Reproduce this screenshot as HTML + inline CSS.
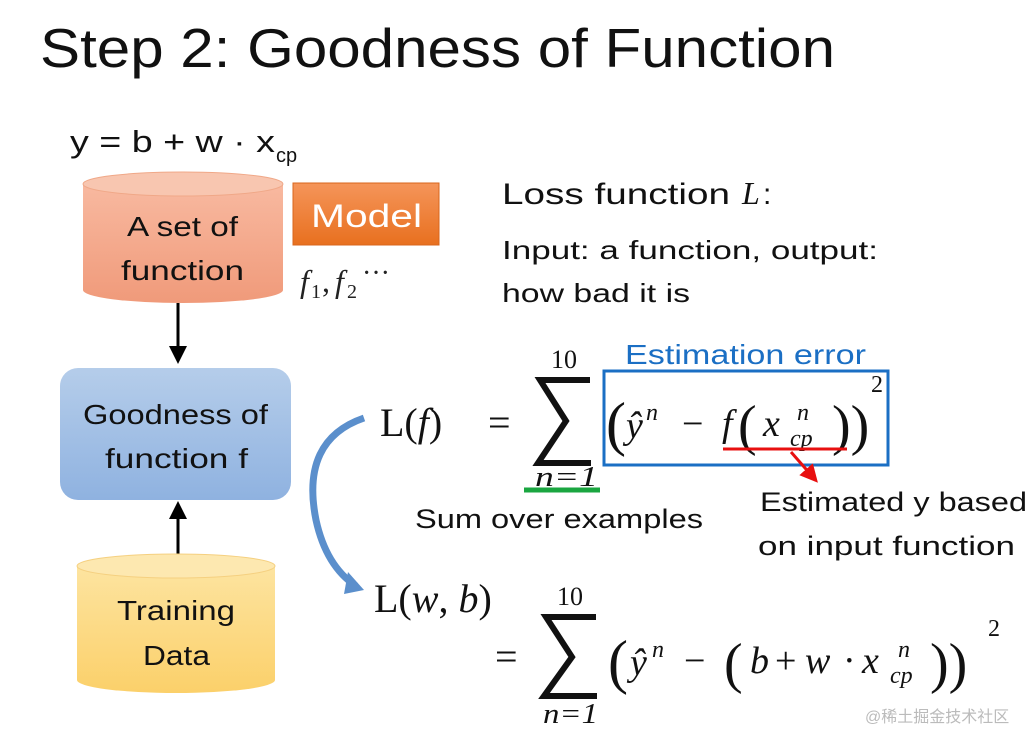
<!DOCTYPE html>
<html><head><meta charset="utf-8"><style>
html,body{margin:0;padding:0;background:#fff;}
svg{display:block;}
.s{font-family:"Liberation Sans","DejaVu Sans",sans-serif;}
.m{font-family:"Liberation Serif","DejaVu Serif",serif;}
</style></head><body>
<svg width="1036" height="733" viewBox="0 0 1036 733" xmlns="http://www.w3.org/2000/svg">
<defs>
<linearGradient id="og" x1="0" y1="0" x2="0" y2="1"><stop offset="0" stop-color="#f8b9a0"/><stop offset="1" stop-color="#f09a7a"/></linearGradient>
<linearGradient id="bg" x1="0" y1="0" x2="0" y2="1"><stop offset="0" stop-color="#b5cdea"/><stop offset="1" stop-color="#8fb2e0"/></linearGradient>
<linearGradient id="yg" x1="0" y1="0" x2="0" y2="1"><stop offset="0" stop-color="#fde4a0"/><stop offset="1" stop-color="#fbd06a"/></linearGradient>
<linearGradient id="mg" x1="0" y1="0" x2="0" y2="1"><stop offset="0" stop-color="#f5955a"/><stop offset="1" stop-color="#e8701f"/></linearGradient>
<marker id="ah" markerWidth="6" markerHeight="6" refX="3" refY="3" orient="auto"><path d="M0,0 L6,3 L0,6 z" fill="#000"/></marker>
<marker id="rh" markerWidth="6" markerHeight="6" refX="3" refY="3" orient="auto"><path d="M0,0 L6,3 L0,6 z" fill="#e81010"/></marker>
</defs>
<text x="40" y="67" class="s" font-size="55" fill="#111" textLength="795" lengthAdjust="spacingAndGlyphs">Step 2: Goodness of Function</text>
<text x="70" y="152" class="s" font-size="31" fill="#111" textLength="205" lengthAdjust="spacingAndGlyphs">y = b + w · x</text>
<text x="276" y="162" class="s" font-size="20" fill="#111">cp</text>

<path d="M83,184 L83,290 A100,13 0 0 0 283,290 L283,184 Z" fill="url(#og)"/>
<ellipse cx="183" cy="184" rx="100" ry="12" fill="#f8c6b0" stroke="#f0a888"/>
<text x="127" y="236" class="s" font-size="28" fill="#111" textLength="111" lengthAdjust="spacingAndGlyphs">A set of</text>
<text x="121" y="280" class="s" font-size="28" fill="#111" textLength="123" lengthAdjust="spacingAndGlyphs">function</text>
<rect x="293" y="183" width="146" height="62" fill="url(#mg)" stroke="#d8661c"/>
<text x="311" y="227" class="s" font-size="32" fill="#fff" textLength="111" lengthAdjust="spacingAndGlyphs">Model</text>
<text x="300" y="292" class="m" font-size="32" font-style="italic" fill="#222">f</text>
<text x="311" y="298" class="m" font-size="20" fill="#222">1</text>
<text x="322" y="292" class="m" font-size="32" fill="#222">,</text>
<text x="335" y="292" class="m" font-size="32" font-style="italic" fill="#222">f</text>
<text x="347" y="298" class="m" font-size="20" fill="#222">2</text>
<text x="362" y="282" class="m" font-size="28" fill="#222">···</text>

<line x1="178" y1="303" x2="178" y2="355" stroke="#000" stroke-width="3" marker-end="url(#ah)"/>
<rect x="60" y="368" width="231" height="132" rx="18" fill="url(#bg)"/>
<text x="83" y="424" class="s" font-size="28" fill="#111" textLength="185" lengthAdjust="spacingAndGlyphs">Goodness of</text>
<text x="105" y="468" class="s" font-size="28" fill="#111" textLength="143" lengthAdjust="spacingAndGlyphs">function f</text>
<line x1="178" y1="555" x2="178" y2="510" stroke="#000" stroke-width="3" marker-end="url(#ah)"/>

<path d="M77,566 L77,680 A99,13 0 0 0 275,680 L275,566 Z" fill="url(#yg)"/>
<ellipse cx="176" cy="566" rx="99" ry="12" fill="#fde8b0" stroke="#f5d080"/>
<text x="117" y="620" class="s" font-size="28" fill="#111" textLength="118" lengthAdjust="spacingAndGlyphs">Training</text>
<text x="143" y="665" class="s" font-size="28" fill="#111" textLength="67" lengthAdjust="spacingAndGlyphs">Data</text>

<path d="M364,418 Q300,440 316,520 Q326,566 356,586" fill="none" stroke="#5b8fcc" stroke-width="7"/>
<path d="M348,572 L364,590 L344,594 Z" fill="#5b8fcc"/>

<text x="502" y="204" class="s" font-size="30" fill="#111" textLength="228" lengthAdjust="spacingAndGlyphs">Loss function</text>
<text x="742" y="204" class="m" font-size="32" font-style="italic" fill="#111">L</text>
<text x="763" y="204" class="s" font-size="30" fill="#111">:</text>
<text x="502" y="259" class="s" font-size="26" fill="#111" textLength="376" lengthAdjust="spacingAndGlyphs">Input: a function, output:</text>
<text x="502" y="302" class="s" font-size="26" fill="#111" textLength="188" lengthAdjust="spacingAndGlyphs">how bad it is</text>

<text x="380" y="436" class="m" font-size="40" fill="#111">L(<tspan font-style="italic">f</tspan>)</text>
<text x="488" y="436" class="m" font-size="40" fill="#111">=</text>
<text x="564" y="368" class="m" font-size="26" text-anchor="middle" fill="#111">10</text>
<path d="M590,380 L540,380 L566,421 L538,463 L591,463" fill="none" stroke="#111" stroke-width="6" stroke-linejoin="miter"/>
<text x="535" y="486" class="m" font-size="28" font-style="italic" fill="#111" textLength="63" lengthAdjust="spacingAndGlyphs">n=1</text>
<line x1="524" y1="490" x2="600" y2="490" stroke="#1aa640" stroke-width="5"/>
<text x="625" y="364" class="s" font-size="28" fill="#1b6fc4" textLength="241" lengthAdjust="spacingAndGlyphs">Estimation error</text>
<rect x="604" y="371" width="284" height="94" fill="none" stroke="#1b6fc4" stroke-width="3"/>
<text x="606" y="444" class="m" font-size="60" fill="#111">(</text>
<text x="626" y="438" class="m" font-size="38" font-style="italic" fill="#111">ŷ</text>
<text x="646" y="420" class="m" font-size="24" font-style="italic" fill="#111">n</text>
<text x="682" y="436" class="m" font-size="38" fill="#111">−</text>
<text x="722" y="436" class="m" font-size="38" font-style="italic" fill="#111">f</text>
<text x="738" y="444" class="m" font-size="56" fill="#111">(</text>
<text x="763" y="436" class="m" font-size="38" font-style="italic" fill="#111">x</text>
<text x="797" y="420" class="m" font-size="24" font-style="italic" fill="#111">n</text>
<text x="790" y="446" class="m" font-size="24" font-style="italic" fill="#111">cp</text>
<text x="832" y="444" class="m" font-size="56" fill="#111">))</text>
<text x="871" y="392" class="m" font-size="24" fill="#111">2</text>
<line x1="723" y1="449" x2="847" y2="449" stroke="#e81010" stroke-width="3"/>
<line x1="791" y1="452" x2="812" y2="476" stroke="#e81010" stroke-width="3" marker-end="url(#rh)"/>
<text x="415" y="528" class="s" font-size="27" fill="#111" textLength="288" lengthAdjust="spacingAndGlyphs">Sum over examples</text>
<text x="760" y="511" class="s" font-size="27" fill="#111" textLength="267" lengthAdjust="spacingAndGlyphs">Estimated y based</text>
<text x="758" y="555" class="s" font-size="27" fill="#111" textLength="257" lengthAdjust="spacingAndGlyphs">on input function</text>

<text x="374" y="612" class="m" font-size="40" fill="#111">L(<tspan font-style="italic">w</tspan>, <tspan font-style="italic">b</tspan>)</text>
<text x="495" y="670" class="m" font-size="40" fill="#111">=</text>
<text x="570" y="605" class="m" font-size="26" text-anchor="middle" fill="#111">10</text>
<path d="M596,617 L546,617 L572,657 L544,696 L597,696" fill="none" stroke="#111" stroke-width="6"/>
<text x="543" y="723" class="m" font-size="28" font-style="italic" fill="#111" textLength="55" lengthAdjust="spacingAndGlyphs">n=1</text>
<text x="608" y="682" class="m" font-size="60" fill="#111">(</text>
<text x="630" y="675" class="m" font-size="38" font-style="italic" fill="#111">ŷ</text>
<text x="652" y="657" class="m" font-size="24" font-style="italic" fill="#111">n</text>
<text x="684" y="673" class="m" font-size="38" fill="#111">−</text>
<text x="724" y="682" class="m" font-size="56" fill="#111">(</text>
<text x="750" y="673" class="m" font-size="38" font-style="italic" fill="#111">b</text>
<text x="775" y="673" class="m" font-size="38" fill="#111">+</text>
<text x="805" y="673" class="m" font-size="38" font-style="italic" fill="#111">w</text>
<text x="843" y="673" class="m" font-size="38" fill="#111">·</text>
<text x="862" y="673" class="m" font-size="38" font-style="italic" fill="#111">x</text>
<text x="898" y="657" class="m" font-size="24" font-style="italic" fill="#111">n</text>
<text x="890" y="683" class="m" font-size="24" font-style="italic" fill="#111">cp</text>
<text x="930" y="682" class="m" font-size="56" fill="#111">))</text>
<text x="988" y="636" class="m" font-size="24" fill="#111">2</text>

<text x="865" y="722" font-family="'Liberation Sans','Noto Sans CJK SC',sans-serif" font-size="16" fill="#bbb">@稀土掘金技术社区</text>
</svg>
</body></html>
